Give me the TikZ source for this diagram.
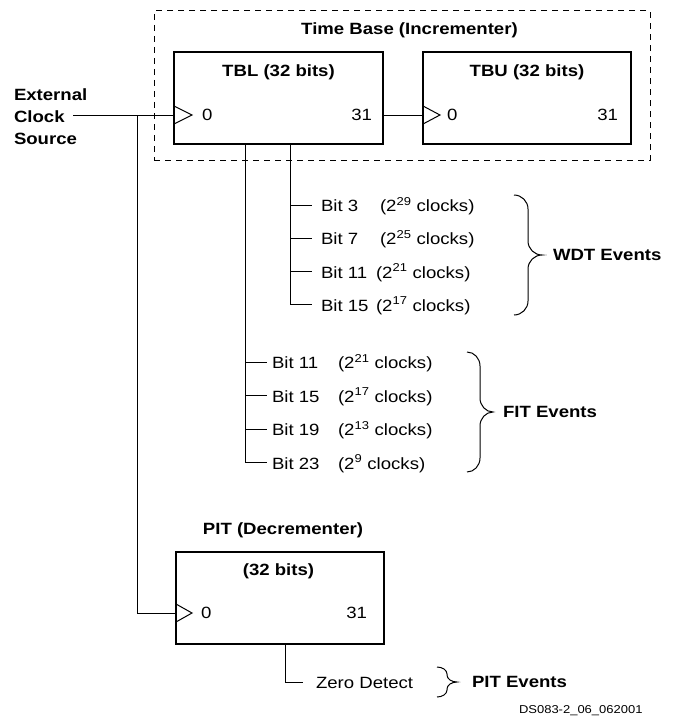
\documentclass[tikz,border=0pt]{standalone}
\usepackage{fontspec}
\setmainfont{Liberation Sans}[FakeStretch=1.14]
\usetikzlibrary{calc}
\newcommand{\evbrace}[5]{%
  \pgfmathsetmacro{\ebxs}{#1+#4}%
  \pgfmathsetmacro{\ebxt}{#1+2*#4}%
  \pgfmathsetmacro{\ebym}{(#2+#3)/2}%
  \draw[bracel] (#1,#2) .. controls ({#1+0.55*#4},#2) and (\ebxs,{#2+0.45*#5}) .. (\ebxs,{#2+#5})
    -- (\ebxs,{\ebym-#5}) .. controls (\ebxs,{\ebym-0.45*#5}) and ({\ebxs+0.45*#4},\ebym) .. (\ebxt,\ebym)
    .. controls ({\ebxs+0.45*#4},\ebym) and (\ebxs,{\ebym+0.45*#5}) .. (\ebxs,{\ebym+#5})
    -- (\ebxs,{#3-#5}) .. controls (\ebxs,{#3-0.45*#5}) and ({#1+0.55*#4},#3) .. (#1,#3);
}
\begin{document}
\begin{tikzpicture}[x=1pt,y=-1pt,
  every node/.style={inner sep=0pt,outer sep=0pt},
  txt/.style={font=\fontsize{16.3}{20}\selectfont},
  btxt/.style={font=\fontsize{16.3}{20}\selectfont\bfseries},
  regbox/.style={draw,line width=2.2pt,minimum width=208pt,minimum height=92pt},
  tbframe/.style={draw,line width=1pt,dash pattern=on 6pt off 5pt,minimum width=496pt,minimum height=149pt},
  wire/.style={line width=1pt},
  bracel/.style={line width=1pt}]
\useasboundingbox (0,0) rectangle (675,717);

% Time base frame
\node[tbframe] (tb) at (402,85.5) {};
\node[btxt,anchor=base] (tbtitle) at (409.5,35) {Time Base (Incrementer)};

% registers
\node[regbox,minimum width=209pt] (tbl) at (278.5,98) {};
\node[regbox] (tbu) at (527,98) {};
\node[regbox] (pit) at (280,598) {};

\node[btxt,anchor=base] (tbltitle) at (278.5,76) {TBL (32 bits)};
\node[btxt,anchor=base] (tbutitle) at (527,76) {TBU (32 bits)};
\node[btxt,anchor=base] (pittitle) at (283,534) {PIT (Decrementer)};
\node[btxt,anchor=base] (pitbits) at (278.5,575) {(32 bits)};

\node[txt,anchor=base west] (tbl0) at (202,120) {0};
\node[txt,anchor=base east] (tbl31) at (372,120) {31};
\node[txt,anchor=base west] (tbu0) at (447,120) {0};
\node[txt,anchor=base east] (tbu31) at (618,120) {31};
\node[txt,anchor=base west] (pit0) at (201,618.5) {0};
\node[txt,anchor=base east] (pit31) at (367,618.5) {31};

% clock inputs (triangles)
\draw[wire] (174,106) -- (192,115) -- (174,124);
\draw[wire] (423,106) -- (440,115) -- (423,124);
\draw[wire] (176,604) -- (192,613) -- (176,622);

% external clock
\node[btxt,anchor=base west] (ext1) at (14,100) {External};
\node[btxt,anchor=base west] (ext2) at (14,122) {Clock};
\node[btxt,anchor=base west] (ext3) at (14,144) {Source};
\coordinate (clkin) at (73,115);
\coordinate (jn) at (137,115);
\coordinate (pitclk) at (176,613);
\draw[wire] (clkin) -- (tbl.west |- jn);
\draw[wire] (jn) |- (pit.west |- pitclk);
\draw[wire] (tbl.east |- jn) -- (tbu.west |- jn);

% WDT taps
\coordinate (wdtx) at (290,0);
\foreach \i/\yy/\b/\e/\px in {1/205/3/29/380,2/238.2/7/25/380,3/271.3/11/21/376,4/304.5/15/17/376}{
  \coordinate (wt\i) at (290,\yy);
  \draw[wire] (wt\i) -- ++(22,0);
  \node[txt,anchor=base west] (wb\i) at (321,{\yy+6.7}) {Bit \b};
  \node[txt,anchor=base west] (wc\i) at (\px,{\yy+6.7}) {(2\textsuperscript{\e} clocks)};
}
\draw[wire] (tbl.south -| wdtx) -- (wt4);

% FIT taps
\coordinate (fitx) at (245,0);
\foreach \i/\yy/\b/\e in {1/362/11/21,2/395.5/15/17,3/429/19/13}{
  \coordinate (ft\i) at (245,\yy);
  \draw[wire] (ft\i) -- ++(22,0);
  \node[txt,anchor=base west] (fb\i) at (272,{\yy+6.6}) {Bit \b};
  \node[txt,anchor=base west] (fc\i) at (338,{\yy+6.6}) {(2\textsuperscript{\e} clocks)};
}
\coordinate (ft4) at (245,462.5);
\draw[wire] (ft4) -- ++(22,0);
\node[txt,anchor=base west] (fb4) at (272,469.1) {Bit 23};
\node[txt,anchor=base west] (fc4) at (338,469.1) {(2\textsuperscript{9} clocks)};
\draw[wire] (tbl.south -| fitx) -- (ft4);

% braces and event labels
\evbrace{514}{195}{315}{14}{14}
\node[btxt,anchor=west] (wdtev) at (553,255) {WDT Events};
\evbrace{467}{352}{472}{13}{14}
\node[btxt,anchor=west] (fitev) at (503,412) {FIT Events};

% PIT zero detect
\coordinate (zd) at (285.7,682);
\draw[wire] (pit.south -| zd) -- (zd) -- ++(17.5,0);
\node[txt,anchor=base west] (zdt) at (316,688.5) {Zero Detect};
\evbrace{437}{667}{697}{10}{7}
\node[btxt,anchor=west] (pitev) at (472,682) {PIT Events};

\node[font=\fontsize{11.4}{13}\selectfont,anchor=base west] (dsid) at (519,713) {DS083-2\_06\_062001};
\end{tikzpicture}
\end{document}
